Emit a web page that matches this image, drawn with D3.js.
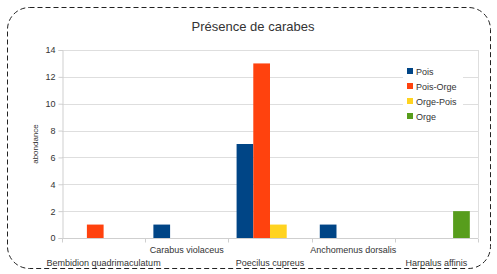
<!DOCTYPE html>
<html>
<head>
<meta charset="utf-8">
<script src="https://cdn.jsdelivr.net/npm/d3@7"></script>
<style>
  body { margin: 0; background: #fff; }
  svg { font-family: "Liberation Sans", Arial, sans-serif; }
</style>
</head>
<body>
<div id="chart"></div>
<script>
// categories and series
var categories = ['Bembidion quadrimaculatum', 'Carabus violaceus', 'Poecilus cupreus', 'Anchomenus dorsalis', 'Harpalus affinis'];
var seriesNames = ['Pois', 'Pois-Orge', 'Orge-Pois', 'Orge'];
var pois = [0, 1, 7, 1, 0];
var poisOrge = [1, 0, 13, 0, 0];
var orgePois = [0, 0, 1, 0, 0];
var orge = [0, 0, 0, 0, 2];
var yTicks = [0, 2, 4, 6, 8, 10, 12, 14];
var colors = ['#004586', '#ff420e', '#ffd320', '#579d1c'];

(function (d3) {
    'use strict';

    var W = 497, H = 274;
    var left = 62, right = 478, top = 50, bottom = 238;
    var series = [pois, poisOrge, orgePois, orge];

    var svg = d3.select('#chart').append('svg')
        .attr('width', W).attr('height', H);

    // dashed rounded frame
    svg.append('rect')
        .attr('x', 7.5).attr('y', 7.5)
        .attr('width', 483).attr('height', 261)
        .attr('rx', 22).attr('ry', 22)
        .attr('fill', 'none')
        .attr('stroke', '#222')
        .attr('stroke-width', 1)
        .attr('stroke-dasharray', '5,3');

    var x = d3.scaleBand().domain(d3.range(categories.length))
        .range([left, right]).paddingInner(0).paddingOuter(0);
    var inner = d3.scaleBand().domain(d3.range(series.length))
        .range([0, x.bandwidth()]).paddingOuter(0.49);
    var y = d3.scaleLinear().domain([0, 14]).range([bottom, top]);

    // grid lines
    svg.append('g').selectAll('line').data(yTicks).join('line')
        .attr('x1', left).attr('x2', right)
        .attr('y1', function (d) { return Math.round(y(d)) + 0.5; })
        .attr('y2', function (d) { return Math.round(y(d)) + 0.5; })
        .attr('stroke', '#dedede');
    svg.append('line')
        .attr('x1', right + 0.5).attr('x2', right + 0.5)
        .attr('y1', top).attr('y2', bottom)
        .attr('stroke', '#dedede');

    // bars (zero values skipped)
    series.forEach(function (vals, s) {
        var pts = vals.map(function (v, i) { return {i: i, v: v}; })
            .filter(function (d) { return d.v > 0; });
        svg.append('g').selectAll('rect').data(pts).join('rect')
            .attr('x', function (d) { return x(d.i) + inner(s); })
            .attr('width', inner.bandwidth())
            .attr('y', function (d) { return y(d.v); })
            .attr('height', function (d) { return y(0) - y(d.v); })
            .attr('fill', colors[s]);
    });

    // y axis
    var yAxis = svg.append('g')
        .attr('transform', 'translate(' + (left + 0.5) + ',0)')
        .call(d3.axisLeft(y).tickValues(yTicks).tickSize(4).tickPadding(3));
    yAxis.select('.domain').attr('stroke', '#cfcfcf');
    yAxis.selectAll('.tick line').attr('stroke', '#cfcfcf');
    yAxis.selectAll('text').attr('fill', '#333').style('font-size', '9px')
        .style('font-family', '"Liberation Sans", Arial, sans-serif');

    // x axis with boundary ticks
    var xAxisG = svg.append('g')
        .attr('transform', 'translate(0,' + (bottom + 0.5) + ')');
    xAxisG.append('line').attr('x1', left).attr('x2', right)
        .attr('stroke', '#cfcfcf');
    xAxisG.selectAll('line.tk').data(d3.range(categories.length + 1)).join('line')
        .attr('class', 'tk')
        .attr('x1', function (i) { return Math.round(left + i * x.bandwidth()) + 0.5; })
        .attr('x2', function (i) { return Math.round(left + i * x.bandwidth()) + 0.5; })
        .attr('y1', 0).attr('y2', 4)
        .attr('stroke', '#cfcfcf');
    xAxisG.selectAll('text').data(categories).join('text')
        .attr('x', function (d, i) { return x(i) + x.bandwidth() / 2; })
        .attr('y', function (d, i) { return i % 2 === 0 ? 27 : 14; })
        .attr('text-anchor', 'middle')
        .attr('fill', '#333')
        .style('font-size', '9px')
        .text(function (d) { return d; });

    // title
    svg.append('text')
        .attr('x', 253).attr('y', 31)
        .attr('text-anchor', 'middle')
        .attr('fill', '#333')
        .style('font-size', '13px')
        .text('Présence de carabes');

    // y title
    svg.append('text')
        .attr('transform', 'translate(38,144) rotate(-90)')
        .attr('text-anchor', 'middle')
        .attr('fill', '#333')
        .style('font-size', '8px')
        .text('abondance');

    // legend
    var lg = svg.append('g').attr('transform', 'translate(403,62)');
    lg.append('rect').attr('width', 60).attr('height', 60).attr('fill', '#fff');
    var items = lg.selectAll('g').data(seriesNames).join('g')
        .attr('transform', function (d, i) { return 'translate(4,' + (9 + i * 15) + ')'; });
    items.append('rect')
        .attr('x', 0).attr('y', -3).attr('width', 6).attr('height', 6)
        .attr('fill', function (d, i) { return colors[i]; });
    items.append('text')
        .attr('x', 9).attr('y', 3.5)
        .attr('fill', '#333')
        .style('font-size', '9px')
        .text(function (d) { return d; });
}(window.d3));
</script>
</body>
</html>
